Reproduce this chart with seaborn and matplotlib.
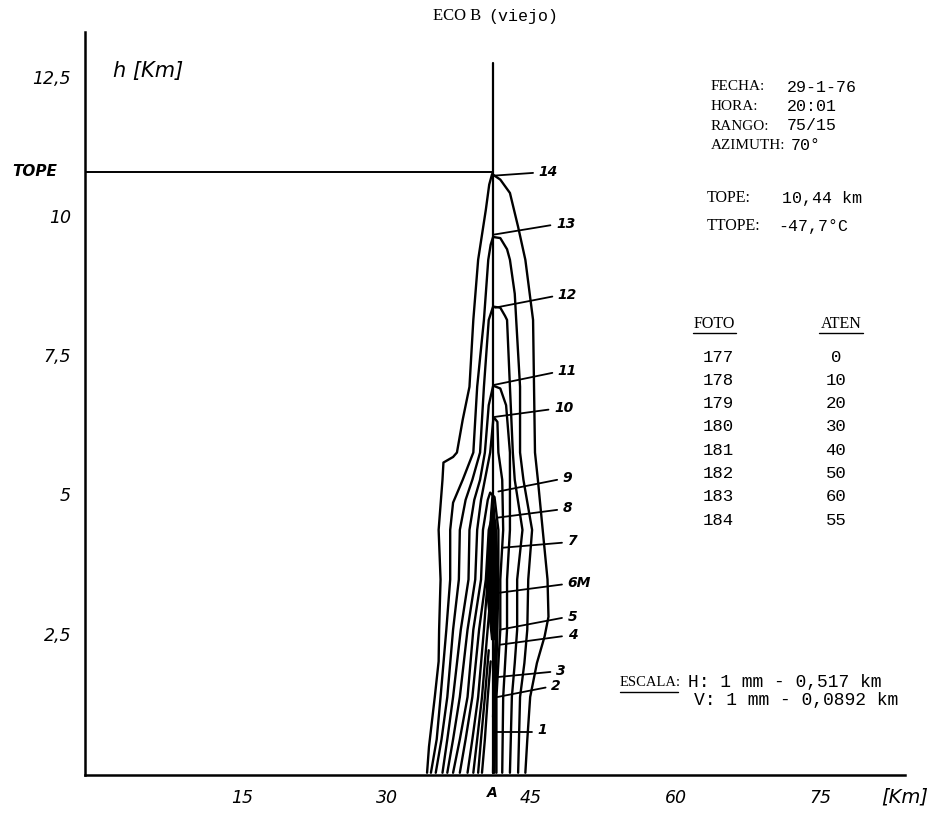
import matplotlib
matplotlib.use('Agg')
import matplotlib.pyplot as plt
import seaborn as sns

# --- echo contours: distance [km] and height [km], left edge up, right edge down ---
c14_x = [34.2, 34.4, 35.0, 35.4, 35.45, 35.6, 35.4, 35.8, 35.9, 36.9, 37.3, 37.9, 38.6, 39.0, 39.5, 40.3, 40.65, 40.95,
         41.8, 42.8, 43.65, 44.4, 45.2, 45.3, 45.4, 45.7, 46.2, 46.7, 46.8, 46.4, 45.6, 44.9, 44.6, 44.4]
c14_h = [0, 0.47, 1.36, 2.0, 2.57, 3.47, 4.36, 5.26, 5.57, 5.67, 5.75, 6.34, 6.93, 8.13, 9.21, 10.11, 10.56, 10.75,
         10.65, 10.41, 9.8, 9.21, 8.13, 6.93, 5.75, 5.26, 4.36, 3.47, 2.8, 2.45, 1.97, 1.36, 0.59, 0]

c13_x = [34.6, 35.2, 35.6, 36.2, 36.6, 36.6, 36.9, 37.9, 39.0, 39.4, 40.1, 40.55, 40.8, 41.05,
         41.8, 42.5, 42.8, 43.3, 43.45, 43.85, 43.85, 44.2, 45.1, 44.7, 44.6, 44.3, 43.85, 43.65]
c13_h = [0, 0.6, 1.36, 2.57, 3.47, 4.36, 4.85, 5.26, 5.75, 6.93, 8.13, 9.21, 9.48, 9.62,
         9.6, 9.4, 9.21, 8.6, 8.13, 6.93, 5.75, 5.26, 4.36, 3.47, 2.57, 1.97, 1.36, 0]

c12_x = [35.1, 35.7, 36.3, 36.9, 37.5, 37.6, 38.2, 38.9, 39.7, 40.1, 40.6, 41.05,
         41.8, 42.3, 42.5, 42.8, 43.1, 43.3, 44.1, 43.55, 43.55, 43.3, 43.0, 42.8]
c12_h = [0, 0.6, 1.36, 2.57, 3.47, 4.36, 4.9, 5.26, 5.75, 6.93, 8.13, 8.37,
         8.35, 8.2, 8.13, 6.93, 5.75, 5.26, 4.36, 3.47, 2.57, 1.97, 1.36, 0]

c11_x = [35.8, 36.3, 36.9, 37.7, 38.5, 38.6, 39.1, 39.7, 40.2, 40.6, 41.06,
         41.8, 42.4, 42.8, 42.8, 42.8, 42.5, 42.5, 42.3, 42.1, 42.0]
c11_h = [0, 0.6, 1.36, 2.57, 3.47, 4.36, 4.9, 5.26, 5.75, 6.6, 6.95,
         6.9, 6.6, 5.75, 5.26, 4.36, 3.47, 2.57, 1.97, 1.36, 0]

c10_x = [36.3, 36.9, 37.6, 38.4, 39.2, 39.4, 39.8, 40.2, 40.75, 41.1,
         41.5, 41.6, 42.0, 42.1, 41.8, 41.8, 41.6, 41.4, 41.4]
c10_h = [0, 0.6, 1.36, 2.57, 3.47, 4.36, 4.9, 5.26, 5.75, 6.39,
         6.3, 5.75, 5.26, 4.36, 3.47, 2.57, 1.97, 1.36, 0]

c9_x = [36.9, 37.6, 38.4, 39.0, 39.8, 40.0, 40.5, 40.75, 41.2, 41.6, 41.6, 41.5, 41.3, 41.2]
c9_h = [0, 0.6, 1.36, 2.57, 3.47, 4.36, 4.9, 5.03, 4.95, 4.36, 3.47, 2.57, 1.36, 0]

c8_x = [37.6, 38.2, 38.9, 39.6, 40.3, 40.6, 41.0, 41.3, 41.45, 41.4, 41.15, 41.05]
c8_h = [0, 0.6, 1.36, 2.57, 3.47, 4.36, 4.63, 4.5, 3.9, 2.57, 1.36, 0]

c7_x = [38.4, 38.9, 39.5, 40.1, 40.5, 40.8, 41.0, 41.3, 41.4, 41.2, 41.05]
c7_h = [0, 0.6, 1.36, 2.57, 3.47, 3.9, 4.06, 3.9, 3.0, 1.8, 1.0]

c6_x = [39.0, 39.4, 39.9, 40.4, 40.7]
c6_h = [0, 0.6, 1.36, 2.4, 3.0]
c5_x = [39.5, 39.8, 40.2, 40.6]
c5_h = [0, 0.6, 1.36, 2.2]
c4_x = [39.9, 40.2, 40.5, 40.8]
c4_h = [0, 0.6, 1.36, 2.0]

# solid core (6M)
core_h = [2.4, 2.75, 3.29, 3.82, 4.36, 4.67, 5.0]
core_left = [40.85, 40.64, 40.33, 40.43, 40.64, 40.75, 40.9]
core_right = [41.16, 41.37, 41.47, 41.47, 41.26, 41.16, 41.0]

# reference lines
center_x = 41.0
center_top = 12.75
tope_h = 10.78

# numbered marks along the vertical
mark_names = ['1', '2', '3', '4', '5', '6M', '7', '8', '9', '10', '11', '12', '13', '14']
mark_x0 = [41.1, 41.5, 41.6, 41.8, 41.8, 41.6, 42.0, 41.5, 41.6, 41.25, 41.05, 41.25, 41.05, 41.05]
mark_h0 = [0.74, 1.36, 1.72, 2.30, 2.57, 3.23, 4.04, 4.58, 5.05, 6.39, 6.96, 8.35, 9.66, 10.72]
mark_x1 = [45.1, 46.5, 47.0, 48.2, 48.2, 48.2, 48.2, 47.7, 47.7, 46.8, 47.2, 47.2, 47.0, 45.2]
mark_h1 = [0.74, 1.53, 1.81, 2.45, 2.78, 3.38, 4.13, 4.72, 5.26, 6.52, 7.18, 8.55, 9.83, 10.77]

# axis ticks
x_ticks = [15, 30, 45, 60, 75]
y_ticks = [2.5, 5, 7.5, 10, 12.5]
y_tick_labels = ['2,5', '5', '7,5', '10', '12,5']

# info block
info_keys = ['FECHA:', 'HORA:', 'RANGO:', 'AZIMUTH:']
info_vals = ['29-1-76', '20:01', '75/15', '70°']
foto = [177, 178, 179, 180, 181, 182, 183, 184]
aten = [0, 10, 20, 30, 40, 50, 60, 55]

sns.set_theme(style='white')
plt.rcParams['font.family'] = ['DejaVu Sans']

W, H = 940, 814
fig = plt.figure(figsize=(W / 100, H / 100), dpi=100)
ax = fig.add_axes([85 / W, 1 - 775 / H, 820 / W, 743 / H])


def px(x, y):
    return x / W, 1 - y / H


contours = [(c14_x, c14_h), (c13_x, c13_h), (c12_x, c12_h), (c11_x, c11_h), (c10_x, c10_h),
            (c9_x, c9_h), (c8_x, c8_h), (c7_x, c7_h), (c6_x, c6_h), (c5_x, c5_h), (c4_x, c4_h)]
for xs, hs in contours:
    sns.lineplot(x=xs, y=hs, sort=False, estimator=None, color='black', linewidth=1.7, ax=ax)

ax.fill_betweenx(core_h, core_left, core_right, color='black')

x_min = -1.3
sns.lineplot(x=[center_x, center_x], y=[0, center_top], sort=False, estimator=None,
             color='black', linewidth=1.6, ax=ax)
sns.lineplot(x=[x_min, center_x], y=[tope_h, tope_h], sort=False, estimator=None,
             color='black', linewidth=1.4, ax=ax)

hand = dict(fontstyle='italic', fontweight='bold', color='black')
for name, x0, h0, x1, h1 in zip(mark_names, mark_x0, mark_h0, mark_x1, mark_h1):
    sns.lineplot(x=[x0, x1], y=[h0, h1], sort=False, estimator=None, color='black', linewidth=1.3, ax=ax)
    ax.annotate(name, (x1, h1), xytext=(4, 1), textcoords='offset points',
                ha='left', va='center', fontsize=10, **hand)

ax.set_xlim(x_min, 83.8)
ax.set_ylim(-0.04, 13.3)
ax.set_xticks(x_ticks)
ax.set_xticklabels([str(t) for t in x_ticks], fontstyle='italic', color='black')
ax.set_yticks(y_ticks)
ax.set_yticklabels(y_tick_labels, fontstyle='italic', color='black')
ax.tick_params(axis='both', direction='inout', length=8, width=1.2, colors='black',
               labelsize=12.5, pad=6)
ax.set_xlabel('')
ax.set_ylabel('')
sns.despine(ax=ax)
for side in ['left', 'bottom']:
    ax.spines[side].set_color('black')
    ax.spines[side].set_linewidth(1.8)

ax.text(center_x, -0.36, 'A', ha='center', va='center', fontsize=10, clip_on=False, **hand)
ax.text(5.2, 12.6, 'h [Km]', ha='center', va='center', fontsize=15, fontstyle='italic', color='black')
fig.text(*px(905, 797), '[Km]', ha='center', va='center', fontsize=14, fontstyle='italic', color='black')
fig.text(*px(35, 171), 'TOPE', ha='center', va='center', fontsize=11, **hand)

# typed annotations
serif = dict(family='Liberation Serif', color='black')
mono = dict(family='Liberation Mono', color='black')
fig.text(*px(433, 16), 'ECO B', ha='left', va='center', fontsize=12, **serif)
fig.text(*px(488, 16), '(viejo)', ha='left', va='center', fontsize=12, **mono)

for i, (k, v) in enumerate(zip(info_keys, info_vals)):
    y = 87 + 19.5 * i
    fig.text(*px(711, y), k, ha='left', va='center', fontsize=11, **serif)
    vx = 787 if i < 3 else 791
    fig.text(*px(vx, y), v, ha='left', va='center', fontsize=12, **mono)
fig.text(*px(707, 198), 'TOPE:', ha='left', va='center', fontsize=11.5, **serif)
fig.text(*px(782, 198), '10,44 km', ha='left', va='center', fontsize=12, **mono)
fig.text(*px(707, 226), 'TTOPE:', ha='left', va='center', fontsize=11.5, **serif)
fig.text(*px(778, 226), '-47,7°C', ha='left', va='center', fontsize=12, **mono)

fig.text(*px(714, 324), 'FOTO', ha='center', va='center', fontsize=11.5, **serif)
fig.text(*px(841, 324), 'ATEN', ha='center', va='center', fontsize=11.5, **serif)
for x0, x1 in [(693, 736), (819, 863)]:
    fig.add_artist(plt.Line2D([x0 / W, x1 / W], [1 - 333 / H, 1 - 333 / H], color='black', linewidth=1.0))
for i, (f, a) in enumerate(zip(foto, aten)):
    y = 357 + 23.3 * i
    fig.text(*px(718, y), str(f), ha='center', va='center', fontsize=12.5, **mono)
    fig.text(*px(836, y), str(a), ha='center', va='center', fontsize=12.5, **mono)

fig.text(*px(620, 682), 'ESCALA:', ha='left', va='center', fontsize=10.5, **serif)
fig.add_artist(plt.Line2D([620 / W, 678 / W], [1 - 692 / H, 1 - 692 / H], color='black', linewidth=1.0))
fig.text(*px(688, 682), 'H: 1 mm - 0,517 km', ha='left', va='center', fontsize=13, **mono)
fig.text(*px(694, 700), 'V: 1 mm - 0,0892 km', ha='left', va='center', fontsize=13, **mono)

fig.savefig('out.png', dpi=100)
